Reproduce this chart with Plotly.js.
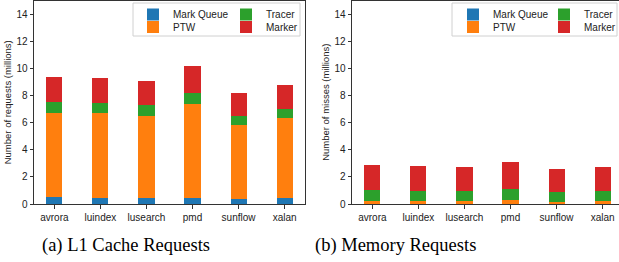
<!DOCTYPE html>
<html>
<head>
<meta charset="utf-8">
<script src="https://cdn.plot.ly/plotly-3.0.1.min.js"></script>
<style>
html,body{margin:0;padding:0;overflow:hidden;background:#fff;}
#chart{width:624px;height:262px;}
</style>
</head>
<body>
<div id="chart"></div>
<script>
// Data (values in millions)
const benchmarks = ['avrora','luindex','lusearch','pmd','sunflow','xalan'];
const seriesNames = ['Mark Queue','PTW','Tracer','Marker'];
const seriesColors = ['#1f77b4','#ff7f0e','#2ca02c','#d62728'];

// (a) L1 Cache Requests
const l1MarkQueue = [0.54, 0.44, 0.44, 0.44, 0.37, 0.44];
const l1PTW       = [6.19, 6.29, 6.05, 6.96, 5.45, 5.90];
const l1Tracer    = [0.81, 0.71, 0.81, 0.78, 0.69, 0.66];
const l1Marker    = [1.82, 1.85, 1.77, 1.99, 1.67, 1.77];

// (b) Memory Requests
const memMarkQueue = [0.01, 0.01, 0.01, 0.01, 0.01, 0.01];
const memPTW       = [0.21, 0.21, 0.21, 0.31, 0.16, 0.21];
const memTracer    = [0.84, 0.74, 0.74, 0.79, 0.74, 0.74];
const memMarker    = [1.81, 1.84, 1.77, 1.99, 1.67, 1.77];

const yTicks = [0, 2, 4, 6, 8, 10, 12, 14];

const W = 624, H = 262;
const px = v => v / W;
const py = v => 1 - v / H;

const l1Series = [l1MarkQueue, l1PTW, l1Tracer, l1Marker];
const memSeries = [memMarkQueue, memPTW, memTracer, memMarker];
// legend layout: row 1 = Mark Queue, Tracer; row 2 = PTW, Marker
const legendRowLeft = ['legend', 'legend2', 'legend', 'legend2'];
const legendRowRight = ['legend3', 'legend4', 'legend3', 'legend4'];

const traces = [];
l1Series.forEach((vals, i) => {
  traces.push({
    type: 'bar', x: benchmarks, y: vals, name: seriesNames[i],
    marker: {color: seriesColors[i], line: {width: 0}},
    width: 0.35, xaxis: 'x', yaxis: 'y', legend: legendRowLeft[i],
    hoverinfo: 'skip'
  });
});
memSeries.forEach((vals, i) => {
  traces.push({
    type: 'bar', x: benchmarks, y: vals, name: seriesNames[i],
    marker: {color: seriesColors[i], line: {width: 0}},
    width: 0.35, xaxis: 'x2', yaxis: 'y2', legend: legendRowRight[i],
    hoverinfo: 'skip'
  });
});

const tickFont = {family: 'Liberation Sans, Arial, sans-serif', size: 10, color: '#222'};
const axisCommon = {
  showline: true, mirror: true, linecolor: '#333', linewidth: 1,
  ticks: 'outside', ticklen: 3.5, tickwidth: 1, tickcolor: '#333',
  showgrid: false, zeroline: false, tickfont: tickFont, automargin: false,
  fixedrange: true
};

function xAxis(domain) {
  return Object.assign({}, axisCommon, {
    domain: domain, type: 'category', range: [-0.4425, 5.4425]
  });
}
function yAxis(anchor, title) {
  return Object.assign({}, axisCommon, {
    anchor: anchor, domain: [py(204), py(0.5)], range: [0, 15],
    tickvals: yTicks, ticktext: yTicks.map(String),
    title: {text: title, font: {family: 'Liberation Sans, Arial, sans-serif', size: 9.5, color: '#222'}, standoff: 3}
  });
}

const legendFont = {family: 'Liberation Sans, Arial, sans-serif', size: 10, color: '#222'};
function legendAt(x, yTop, ew) {
  return {
    orientation: 'h', x: px(x), xanchor: 'left', y: py(yTop), yanchor: 'top',
    font: legendFont, bgcolor: 'rgba(0,0,0,0)', borderwidth: 0,
    entrywidth: ew, entrywidthmode: 'pixels', traceorder: 'normal',
    itemclick: false, itemdoubleclick: false
  };
}

const captionFont = {family: 'Liberation Serif, Times New Roman, serif', size: 18.5, color: '#000'};

const layout = {
  width: W, height: H,
  margin: {l: 0, r: 0, t: 0, b: 0, pad: 0, autoexpand: false},
  paper_bgcolor: '#fff', plot_bgcolor: '#fff',
  barmode: 'stack', showlegend: true,
  xaxis: xAxis([px(34), px(305)]),
  yaxis: yAxis('x', 'Number of requests (millions)'),
  xaxis2: xAxis([px(352), px(623)]),
  yaxis2: yAxis('x2', 'Number of misses (millions)'),
  legend: legendAt(133, 0, 48),
  legend2: legendAt(133, 12.5, 48),
  legend3: legendAt(453, 0, 46),
  legend4: legendAt(453, 12.5, 46),
  shapes: [
    {type: 'rect', xref: 'paper', yref: 'paper', x0: px(133), x1: px(300), y0: py(36), y1: py(3),
     line: {color: '#d0d0d0', width: 1}, fillcolor: 'rgba(255,255,255,0.8)', layer: 'below'},
    {type: 'rect', xref: 'paper', yref: 'paper', x0: px(452), x1: px(617), y0: py(36), y1: py(3),
     line: {color: '#d0d0d0', width: 1}, fillcolor: 'rgba(255,255,255,0.8)', layer: 'below'}
  ],
  annotations: [
    {text: '(a) L1 Cache Requests', xref: 'paper', yref: 'paper', x: px(126), y: py(245),
     xanchor: 'center', yanchor: 'middle', showarrow: false, font: captionFont},
    {text: '(b) Memory Requests', xref: 'paper', yref: 'paper', x: px(395), y: py(245),
     xanchor: 'center', yanchor: 'middle', showarrow: false, font: captionFont}
  ]
};

Plotly.newPlot('chart', traces, layout, {displayModeBar: false, staticPlot: true});
</script>
</body>
</html>
